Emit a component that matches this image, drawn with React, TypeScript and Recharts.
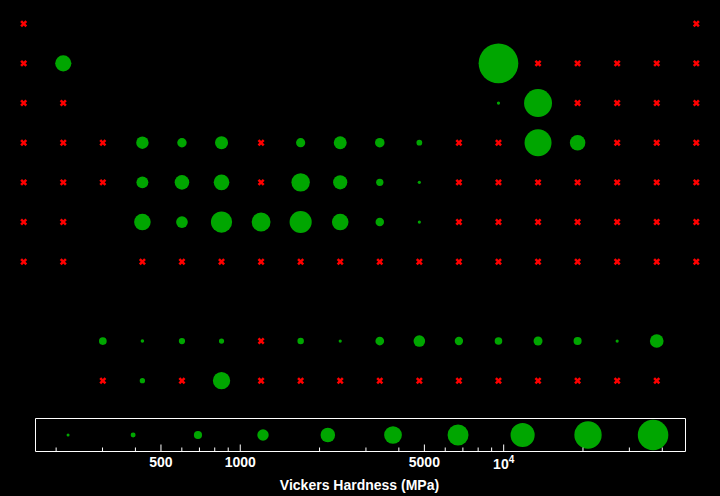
import React from 'react';
import { ScatterChart, Scatter, XAxis, YAxis, ReferenceArea } from 'recharts';

// Vickers hardness (MPa) per periodic-table cell: 0 = no data (red cross), null = empty cell
const _ = null;
const X = 0;
const period1 = [X, _, _, _, _, _, _, _, _, _, _, _, _, _, _, _, _, X];
const period2 = [X, 1670, _, _, _, _, _, _, _, _, _, _, 49000, X, X, X, X, X];
const period3 = [X, X, _, _, _, _, _, _, _, _, _, _, 167, 9100, X, X, X, X];
const period4 = [X, X, X, 970, 628, 1060, X, 608, 1043, 638, 369, X, X, 7900, 1510, X, X, X];
const period5 = [X, X, X, 903, 1320, 1530, X, 2298, 1246, 461, 251, X, X, X, X, X, X, X];
const period6 = [X, X, _, 1760, 873, 3430, 2450, 3920, 1760, 549, 216, X, X, X, X, X, X, X];
const period7 = [X, X, _, X, X, X, X, X, X, X, X, X, X, X, X, X, X, X];
const lanthanides = [_, _, 491, 270, 400, 343, X, 412, 167, 570, 863, 540, 481, 589, 520, 206, 1160, _];
const actinides = [_, _, X, 350, X, 1960, X, X, X, X, X, X, X, X, X, X, X, _];

const tableRows = [period1, period2, period3, period4, period5, period6, period7, lanthanides, actinides];
const rowPositions = [1, 2, 3, 4, 5, 6, 7, 9, 10];

// legend bubble values (log-spaced across the data range)
const legendValues = [222, 392, 691, 1220, 2150, 3800, 6710, 11800, 20900, 36900];
const hardnessDomain = [167, 49000];
const majorTicks = [500, 1000, 5000, 10000];
const minorTicks = [200, 300, 400, 600, 700, 800, 900, 2000, 3000, 4000, 6000, 7000, 8000, 9000, 20000, 30000, 40000];

const GREEN = '#00a600';
const RED = '#ff0000';
const FONT = 'Liberation Sans, Arial, sans-serif';

type Cell = { col: number; row: number; hardness: number };
const cells: Cell[] = [];
tableRows.forEach((arr, i) => {
  arr.forEach((h, c) => {
    if (h !== null) cells.push({ col: c + 1, row: rowPositions[i], hardness: h as number });
  });
});
const measured = cells.filter((d) => d.hardness > 0);
const missing = cells.filter((d) => d.hardness === 0);
const legendData = legendValues.map((v) => ({ v, y: 0.5 }));
const allTicks = [...minorTicks, ...majorTicks].sort((a, b) => a - b);

const radius = (v: number) => Math.max(1.6, 0.1 + 8.0 * Math.log10(v / hardnessDomain[0]));

const Bubble = (p: any) => (
  <circle cx={p.cx} cy={p.cy} r={radius(p.payload.hardness)} fill={GREEN} />
);
const LegendBubble = (p: any) => (
  <circle cx={p.cx} cy={p.cy} r={Math.max(1.5, radius(p.payload.v) * 0.81)} fill={GREEN} />
);
const Cross = (p: any) => {
  const s = 2.6;
  return (
    <g>
      <line x1={p.cx - s} y1={p.cy - s} x2={p.cx + s} y2={p.cy + s} stroke={RED} strokeWidth={2.5} />
      <line x1={p.cx - s} y1={p.cy + s} x2={p.cx + s} y2={p.cy - s} stroke={RED} strokeWidth={2.5} />
    </g>
  );
};

const LegendTick = (p: any) => {
  const v = p.payload.value;
  const major = majorTicks.includes(v);
  const x = p.x;
  const y = 451.5 - 400;
  return (
    <g>
      <line x1={x} x2={x} y1={y} y2={y - (major ? 7 : 4)} stroke="#fff" strokeWidth={1} />
      {major && v !== 10000 && (
        <text x={x} y={y + 15.2} textAnchor="middle" fill="#fff" fontSize={14} fontWeight="bold" fontFamily={FONT}>
          {v}
        </text>
      )}
      {v === 10000 && (
        <text x={x} y={y + 17.8} textAnchor="middle" fill="#fff" fontSize={14} fontWeight="bold" fontFamily={FONT}>
          <tspan>10</tspan>
          <tspan dy={-6} fontSize={10}>4</tspan>
        </text>
      )}
    </g>
  );
};

export default function App() {
  return (
    <div style={{ position: 'absolute', left: 0, top: 0, width: 720, height: 496, background: '#000', overflow: 'hidden' }}>
      <div style={{ position: 'absolute', left: 0, top: 0 }}>
        <ScatterChart width={720} height={400} margin={{ top: 23.7, left: 23.7, right: 23.7, bottom: 19.3 }}>
          <XAxis type="number" dataKey="col" domain={[1, 18]} hide />
          <YAxis type="number" dataKey="row" domain={[1, 10]} reversed hide />
          <Scatter data={missing} shape={Cross} isAnimationActive={false} />
          <Scatter data={measured} shape={Bubble} isAnimationActive={false} />
        </ScatterChart>
      </div>
      <div style={{ position: 'absolute', left: 0, top: 400 }}>
        <ScatterChart width={720} height={96} margin={{ top: 18.5, left: 35.5, right: 34.5, bottom: 14.5 }}>
          <XAxis
            type="number"
            dataKey="v"
            scale="log"
            domain={hardnessDomain}
            allowDataOverflow
            ticks={allTicks}
            interval={0}
            tick={LegendTick}
            tickLine={false}
            axisLine={false}
            tickSize={0}
            tickMargin={0}
            height={30}
          />
          <YAxis type="number" dataKey="y" domain={[0, 1]} hide />
          <ReferenceArea x1={hardnessDomain[0]} x2={hardnessDomain[1]} y1={0} y2={1} fill="none" stroke="#fff" strokeOpacity={1} strokeWidth={1} ifOverflow="visible" />
          <Scatter data={legendData} shape={LegendBubble} isAnimationActive={false} />
        </ScatterChart>
      </div>
      <svg style={{ position: 'absolute', left: 0, top: 0 }} width={720} height={496}>
        <text x={359.5} y={490} textAnchor="middle" fill="#fff" fontSize={14} fontWeight="bold" fontFamily={FONT}>
          Vickers Hardness (MPa)
        </text>
      </svg>
    </div>
  );
}
